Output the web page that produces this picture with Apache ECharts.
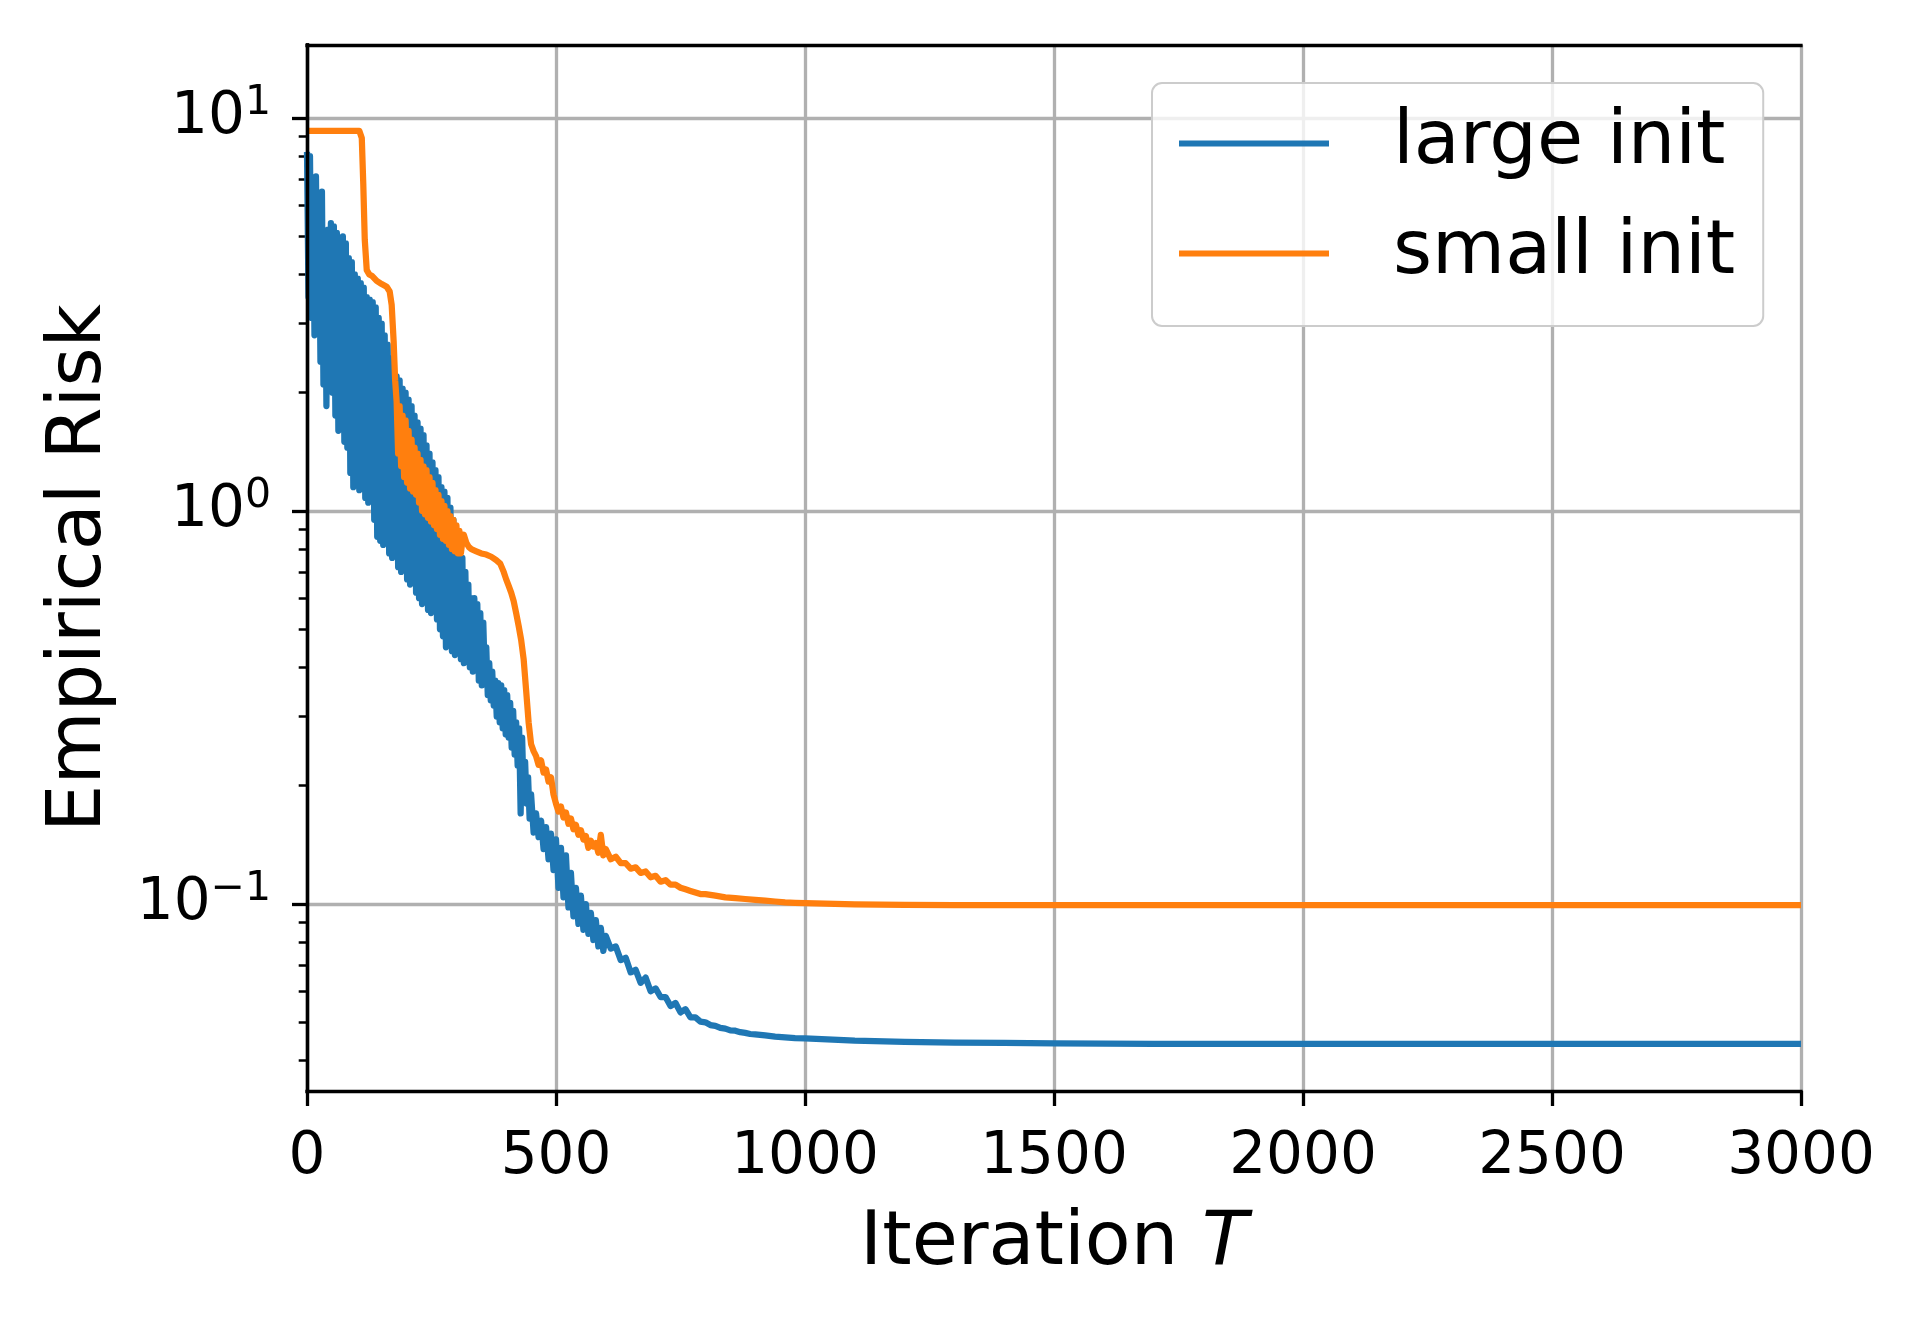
<!DOCTYPE html>
<html><head><meta charset="utf-8">
<script src="https://cdn.jsdelivr.net/npm/echarts@6/dist/echarts.min.js"></script>
<style>html,body{margin:0;padding:0;background:#fff}#c{width:1920px;height:1320px}</style>
</head><body><div id="c"></div>
<script>
// ---------- data ----------
const seriesNames = ['large init', 'small init'];
const seriesColors = ['#1f77b4', '#ff7f0e'];

const largeInitIter = [
  0,3,6,9,12,15,18,21,24,27,30,33,36,39,42,45,48,51,54,57,
  60,63,66,69,72,75,78,81,84,87,90,93,96,99,102,105,108,111,114,117,
  120,123,126,129,132,135,138,141,144,147,150,153,156,159,162,165,168,171,174,177,
  180,183,186,189,192,195,198,201,204,207,210,213,216,219,222,225,228,231,234,237,
  240,243,246,249,252,255,258,261,264,267,270,273,276,279,282,285,288,291,294,297,
  300,303,306,309,312,315,318,321,324,327,330,333,336,339,342,345,348,351,354,357,
  360,363,366,369,372,375,378,381,384,387,390,393,396,399,402,405,408,411,414,417,
  420,423,426,429,432,435,438,441,444,447,450,
  455,460,465,470,475,480,485,490,495,500,505,510,515,520,525,530,535,540,545,550,
  555,560,565,570,575,580,585,590,595,600,
  610,620,630,640,650,660,670,680,690,700,710,720,730,740,750,760,770,780,790,
  800,810,820,830,840,850,860,870,880,890,900,920,940,960,980,1000,
  1100,1200,1300,1400,1500,1700,2000,2500,3000
];
const largeInitRisk = [
  8.2,3.5,8.0,3.1,6.9,2.8,7.1,2.9,6.4,2.4,6.5,2.1,5.1,1.85,5.2,2.3,5.4,2.0,5.3,1.75,
  5.1,1.6,4.6,1.9,5.0,1.5,4.8,1.45,4.4,1.25,4.3,1.15,4.0,1.4,3.9,1.13,3.8,1.2,3.7,1.08,
  3.5,1.05,3.45,1.1,3.4,0.95,3.3,0.86,3.1,0.84,3.0,0.82,2.8,0.9,2.65,0.78,2.45,0.76,2.35,0.8,
  2.2,0.72,2.15,0.7,2.05,0.74,2.0,0.67,1.92,0.65,1.85,0.7,1.75,0.62,1.68,0.6,1.62,0.58,1.56,0.62,
  1.47,0.56,1.4,0.55,1.33,0.58,1.27,0.53,1.22,0.5,1.15,0.48,1.12,0.45,1.08,0.47,1.02,0.44,0.95,0.43,
  0.86,0.46,0.8,0.42,0.76,0.41,0.7,0.43,0.65,0.40,0.6,0.39,0.6,0.42,0.58,0.37,0.55,0.36,0.52,0.38,
  0.45,0.34,0.41,0.33,0.39,0.32,0.37,0.30,0.365,0.29,0.36,0.28,0.35,0.27,0.34,0.265,0.325,0.25,0.31,0.24,
  0.29,0.225,0.28,0.17,0.265,0.19,0.23,0.18,0.21,0.165,0.19,
  0.152,0.17,0.148,0.163,0.138,0.157,0.13,0.151,0.122,0.146,0.11,0.139,0.104,0.133,0.098,0.12,0.093,0.11,0.089,0.105,
  0.086,0.1,0.084,0.095,0.081,0.091,0.078,0.087,0.076,0.083,
  0.077,0.078,0.072,0.073,0.067,0.068,0.063,0.065,0.060,0.061,0.058,0.058,0.055,0.056,0.053,0.054,0.0515,0.0515,0.0502,
  0.0500,0.0492,0.0490,0.0484,0.0482,0.0477,0.0476,0.0472,0.0470,0.0467,0.0466,0.0463,0.0460,0.0458,0.0456,0.0455,
  0.0449,0.0446,0.0444,0.0443,0.0442,0.0441,0.0441,0.0441,0.0441
];

const smallInitIter = [
  0,105,110,113,116,120,125,130,140,150,160,166,170,174,177,
  180,183,186,189,192,195,198,201,204,207,210,213,216,219,222,225,228,231,234,237,
  240,243,246,249,252,255,258,261,264,267,270,273,276,279,282,285,288,291,294,297,
  300,303,306,309,312,315,320,325,330,340,350,360,370,380,388,395,
  400,405,410,415,420,425,430,435,440,445,450,455,460,465,470,475,480,485,490,495,
  500,505,510,515,520,525,530,535,540,545,550,555,560,565,570,575,580,585,590,595,
  600,610,620,630,640,650,660,670,680,690,700,710,720,730,740,750,760,770,780,790,
  800,820,840,860,880,900,920,940,960,980,1000,
  1100,1200,1300,1500,2000,3000
];
const smallInitRisk = [
  9.28,9.28,8.9,6.8,4.9,4.1,4.0,3.97,3.85,3.78,3.72,3.62,3.35,2.7,2.15,
  1.9,1.4,1.85,1.3,1.75,1.22,1.7,1.18,1.6,1.14,1.52,1.12,1.45,1.1,1.4,1.05,1.35,1.0,1.3,0.98,
  1.27,0.96,1.22,0.94,1.18,0.92,1.13,0.9,1.1,0.87,1.06,0.85,1.03,0.84,1.0,0.82,0.97,0.8,0.95,0.79,
  0.92,0.78,0.89,0.78,0.84,0.87,0.83,0.81,0.80,0.79,0.78,0.775,0.765,0.75,0.735,0.70,
  0.67,0.645,0.62,0.59,0.55,0.51,0.47,0.42,0.35,0.29,0.255,0.245,0.238,0.226,0.232,0.216,0.22,0.205,0.21,0.19,
  0.18,0.172,0.177,0.166,0.171,0.16,0.165,0.155,0.159,0.15,0.154,0.146,0.149,0.139,0.145,0.14,0.143,0.135,0.15,0.133,
  0.138,0.13,0.132,0.127,0.127,0.123,0.124,0.12,0.121,0.117,0.118,0.114,0.115,0.112,0.112,0.11,0.109,0.108,0.107,0.106,
  0.106,0.105,0.104,0.1035,0.103,0.1025,0.102,0.1015,0.101,0.1007,0.1005,
  0.0998,0.0995,0.0994,0.0993,0.0993,0.0993
];

const xTickValues = [0, 500, 1000, 1500, 2000, 2500, 3000];
const yMajorTicks = [0.1, 1, 10];
const yMinorTicks = [0.04,0.05,0.06,0.07,0.08,0.09,0.2,0.3,0.4,0.5,0.6,0.7,0.8,0.9,2,3,4,5,6,7,8,9];
const xRange = [0, 3000];
const yRange = [0.03344, 15.34];
const xAxisTitle = 'Iteration ';
const xAxisTitleItalic = 'T';
const yAxisTitle = 'Empirical Risk';

// ---------- chart ----------
const FONT = 'DejaVu Sans';
const chart = echarts.init(document.getElementById('c'), null, {renderer: 'canvas', width: 1920, height: 1320});

function zip(xs, ys) { return xs.map((x, i) => [x, ys[i]]); }
function expLabel(v) {
  const e = Math.log10(v);
  const r = Math.round(e);
  if (Math.abs(e - r) > 1e-6) return '';
  const s = r < 0 ? '\u2212' + (-r) : String(r);
  return '{b|10}{s|' + s + '}';
}
const spine = {show: true, lineStyle: {color: '#000', width: 3.3, cap: 'square'}};
const hideAll = {axisLabel: {show: false}, axisTick: {show: false}, splitLine: {show: false}};

const option = {
  animation: false,
  backgroundColor: '#fff',
  grid: {left: 307, top: 45, width: 1494, height: 1046, containLabel: false},
  legend: {
    data: seriesNames,
    orient: 'vertical',
    left: 1152, top: 83,
    padding: [17, 28, 29, 27],
    itemGap: 23,
    itemWidth: 150, itemHeight: 6,
    icon: 'rect',
    selectedMode: false,
    backgroundColor: 'rgba(255,255,255,0.8)',
    borderColor: '#cccccc', borderWidth: 2, borderRadius: 10,
    textStyle: {fontFamily: FONT, fontSize: 75, color: '#000', lineHeight: 75, padding: [12, 0, 0, 59]}
  },
  xAxis: [
    {
      type: 'value', min: xRange[0], max: xRange[1], interval: 500, position: 'bottom', z: 0,
      axisLine: {show: false},
      axisTick: {show: true, inside: false, length: 15, lineStyle: {color: '#000', width: 3.3}, customValues: xTickValues},
      axisLabel: {show: true, margin: 38, fontFamily: FONT, fontSize: 58, color: '#000', customValues: xTickValues,
        formatter: v => String(v)},
      splitLine: {show: true, lineStyle: {color: '#b0b0b0', width: 3.3}},
      name: '{n|' + xAxisTitle + '}{i|' + xAxisTitleItalic + '}',
      nameLocation: 'middle', nameGap: 116,
      nameTextStyle: {fontFamily: FONT, fontSize: 75, color: '#000',
        rich: {n: {fontFamily: FONT, fontSize: 75, color: '#000'}, i: {fontFamily: FONT, fontSize: 75, fontStyle: 'italic', color: '#000'}}}
    },
    Object.assign({type: 'value', min: xRange[0], max: xRange[1], position: 'top', z: 10, axisLine: spine}, hideAll),
    Object.assign({type: 'value', min: xRange[0], max: xRange[1], position: 'bottom', z: 10, axisLine: spine}, hideAll)
  ],
  yAxis: [
    {
      type: 'log', logBase: 10, min: yRange[0], max: yRange[1], position: 'left', z: 0,
      axisLine: {show: false},
      axisTick: {show: true, inside: false, length: 15, lineStyle: {color: '#000', width: 3.3}, customValues: yMajorTicks},
      axisLabel: {show: true, margin: 36, formatter: expLabel, customValues: yMajorTicks,
        rich: {
          b: {fontFamily: FONT, fontSize: 58, color: '#000', lineHeight: 70, verticalAlign: 'middle'},
          s: {fontFamily: FONT, fontSize: 41, color: '#000', lineHeight: 38, verticalAlign: 'top'}
        }},
      splitLine: {show: true, lineStyle: {color: '#b0b0b0', width: 3.3}},
      name: yAxisTitle, nameLocation: 'middle', nameRotate: 90, nameGap: 189,
      nameTextStyle: {fontFamily: FONT, fontSize: 75, color: '#000'}
    },
    {
      type: 'log', logBase: 10, min: yRange[0], max: yRange[1], position: 'left', z: 0,
      axisLine: {show: false}, axisLabel: {show: false}, splitLine: {show: false},
      axisTick: {show: true, inside: false, length: 8.3, lineStyle: {color: '#000', width: 2.5}, customValues: yMinorTicks}
    },
    Object.assign({type: 'log', min: yRange[0], max: yRange[1], position: 'right', z: 10, axisLine: spine}, hideAll),
    Object.assign({type: 'log', min: yRange[0], max: yRange[1], position: 'left', z: 10, axisLine: spine}, hideAll)
  ],
  series: [
    {
      name: seriesNames[0], type: 'line', xAxisIndex: 0, yAxisIndex: 0,
      data: zip(largeInitIter, largeInitRisk),
      showSymbol: false, symbol: 'none', z: 2,
      color: seriesColors[0],
      lineStyle: {color: seriesColors[0], width: 6.25, join: 'round', cap: 'butt'}
    },
    {
      name: seriesNames[1], type: 'line', xAxisIndex: 0, yAxisIndex: 0,
      data: zip(smallInitIter, smallInitRisk),
      showSymbol: false, symbol: 'none', z: 3,
      color: seriesColors[1],
      lineStyle: {color: seriesColors[1], width: 6.25, join: 'round', cap: 'butt'}
    }
  ]
};
chart.setOption(option);
</script>
</body></html>
